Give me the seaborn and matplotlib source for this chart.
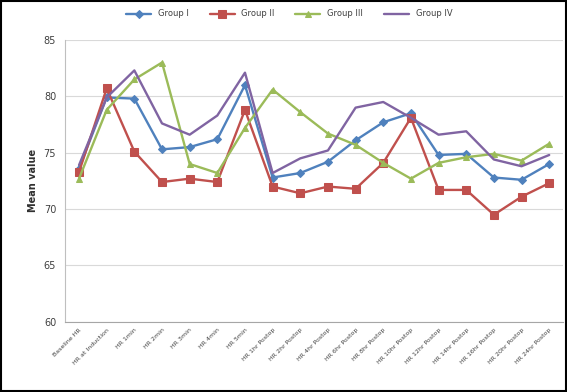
import pandas as pd
import matplotlib
matplotlib.use('Agg')
import matplotlib.pyplot as plt
import seaborn as sns
from matplotlib.patches import Rectangle

# Time points (x axis categories)
time_points = [
    'Baseline HR', 'HR at Induction', 'HR 1min', 'HR 2min', 'HR 3min', 'HR 4min', 'HR 5min',
    'HR 1hr Postop', 'HR 2hr Postop', 'HR 4hr Postop', 'HR 6hr Postop', 'HR 8hr Postop',
    'HR 10hr Postop', 'HR 12hr Postop', 'HR 14hr Postop', 'HR 16hr Postop',
    'HR 20hr Postop', 'HR 24hr Postop'
]

# Mean values
group_1 = [73.6, 79.9, 79.8, 75.3, 75.5, 76.2, 81.0, 72.8, 73.2, 74.2, 76.1, 77.7,
           78.5, 74.8, 74.9, 72.8, 72.6, 74.0]
group_2 = [73.3, 80.7, 75.1, 72.4, 72.7, 72.4, 78.8, 72.0, 71.4, 72.0, 71.8, 74.1,
           78.1, 71.7, 71.7, 69.5, 71.1, 72.3]
group_3 = [72.7, 78.8, 81.5, 83.0, 74.0, 73.2, 77.2, 80.6, 78.6, 76.7, 75.7, 74.1,
           72.7, 74.1, 74.6, 74.9, 74.3, 75.8]
group_4 = [73.9, 79.9, 82.3, 77.6, 76.6, 78.3, 82.1, 73.2, 74.5, 75.2, 79.0, 79.5,
           78.1, 76.6, 76.9, 74.4, 73.8, 74.8]

group_names = ['Group I', 'Group II', 'Group III', 'Group IV']
y_ticks = [60, 65, 70, 75, 80, 85]

rows = []
for name, vals in zip(group_names, [group_1, group_2, group_3, group_4]):
    for i, v in enumerate(vals):
        rows.append({'pos': i, 'group': name, 'value': v})
df = pd.DataFrame(rows)

styles = {
    'Group I': dict(color='#4F81BD', marker='D', markersize=4),
    'Group II': dict(color='#C0504D', marker='s', markersize=6),
    'Group III': dict(color='#9BBB59', marker='^', markersize=5),
    'Group IV': dict(color='#8064A2', marker=None, markersize=0),
}

sns.set_style('white')
fig = plt.figure(figsize=(5.67, 3.92), dpi=100)
ax = fig.add_axes([0.115, 0.179, 0.878, 0.719])

for name in group_names:
    st = styles[name]
    sub = df[df['group'] == name]
    sns.lineplot(data=sub, x='pos', y='value', ax=ax, color=st['color'],
                 marker=st['marker'], markersize=st['markersize'],
                 markeredgecolor=st['color'], linewidth=1.7, label=name)

ax.set_xlim(-0.5, len(time_points) - 0.5)
ax.set_ylim(60, 85)
ax.set_yticks(y_ticks)
ax.set_xticks(range(len(time_points)))
ax.set_xticklabels(time_points, rotation=45, ha='right', rotation_mode='anchor',
                   fontsize=4.5, color='#404040')
ax.tick_params(axis='y', labelsize=7, colors='#404040', length=3, color='#BFBFBF')
ax.tick_params(axis='x', length=0, pad=4)
ax.grid(axis='y', color='#D9D9D9', linewidth=0.8)
ax.set_axisbelow(True)
ax.set_xlabel('')
ax.set_ylabel('Mean value', fontsize=7, fontweight='bold', color='#303030')

for side in ['top', 'right']:
    ax.spines[side].set_visible(False)
ax.spines['left'].set_color('#BFBFBF')
ax.spines['bottom'].set_color('#A6A6A6')

ax.legend(loc='upper center', bbox_to_anchor=(0.51, 0.995), bbox_transform=fig.transFigure,
          ncol=4, frameon=False, fontsize=6, handlelength=3, columnspacing=2.5,
          labelcolor='#404040')

fig.patches.append(Rectangle((0.002, 0.003), 0.996, 0.994, transform=fig.transFigure,
                             fill=False, edgecolor='black', linewidth=1.5))

fig.savefig('out.png', dpi=100)
